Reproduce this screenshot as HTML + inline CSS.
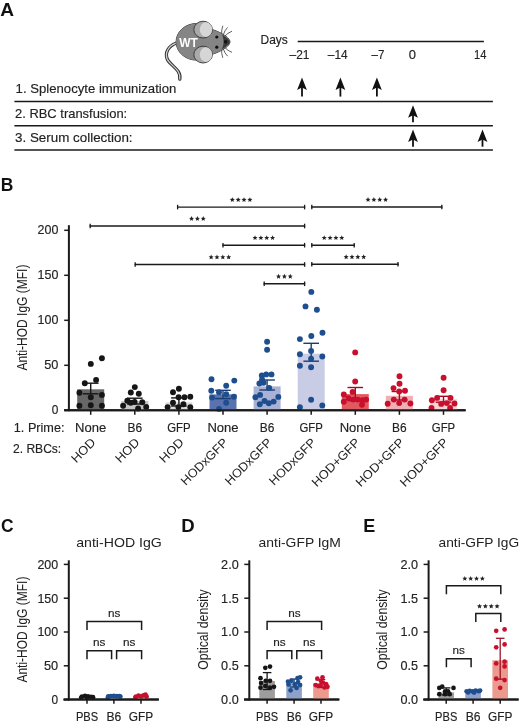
<!DOCTYPE html><html><head><meta charset="utf-8"><style>html,body{margin:0;padding:0;background:#fff;}svg{display:block;will-change:transform;}text{font-family:"Liberation Sans", sans-serif;}</style></head><body>
<svg width="520" height="724" viewBox="0 0 520 724">
<rect width="520" height="724" fill="#fff"/>
<text x="0.3" y="15.8" font-size="19" text-anchor="start" textLength="13.8" lengthAdjust="spacingAndGlyphs" font-weight="bold" fill="#111">A</text>
<g>
<path d="M176,43.2 C168.5,46 164.6,52.5 167.2,59 C170,65.5 181.5,69.5 179.8,79.2" fill="none" stroke="#333" stroke-width="3.3" stroke-linecap="round"/>
<path d="M176,43.2 C168.5,46 164.6,52.5 167.2,59 C170,65.5 181.5,69.5 179.8,79.2" fill="none" stroke="#d0d0d0" stroke-width="1.3" stroke-linecap="round"/>
<path d="M207,28.2 C214,29.5 220.5,32.5 225,35.6 C228.6,38.2 230.2,40.6 229.9,41.9 C230.2,43.2 228.6,45.6 225,48.2 C220.5,51.3 214,54.3 207,55.6 Z" fill="#858585" stroke="#333" stroke-width="1"/>
<ellipse cx="196.5" cy="41.8" rx="20.4" ry="18.3" fill="#858585" stroke="#333" stroke-width="1"/>
<path d="M207,28.2 C214,29.5 220.5,32.5 225,35.6 C228.6,38.2 230.2,40.6 229.9,41.9 C230.2,43.2 228.6,45.6 225,48.2 C220.5,51.3 214,54.3 207,55.6 Z" fill="#858585"/>
<ellipse cx="196.5" cy="41.8" rx="20.4" ry="18.3" fill="#858585"/>
<path d="M221.8,34.6 C225.5,36.8 229.9,39.8 229.9,41.9 C229.9,44 225.5,47 221.8,49.2 C224.2,45.2 224.2,38.6 221.8,34.6 Z" fill="#3a3a3a"/>
<circle cx="225.6" cy="41.7" r="1.7" fill="#111"/>
<ellipse cx="203.1" cy="29.6" rx="9.3" ry="8.4" fill="#a9a9a9" stroke="#333" stroke-width="0.9"/>
<ellipse cx="206.0" cy="29.6" rx="6.2" ry="7.3" fill="#d6d6d6"/>
<ellipse cx="203.1" cy="54.6" rx="9.3" ry="8.4" fill="#a9a9a9" stroke="#333" stroke-width="0.9"/>
<ellipse cx="206.0" cy="54.6" rx="6.2" ry="7.3" fill="#d6d6d6"/>
<circle cx="216.8" cy="37.0" r="1.6" fill="#111"/>
<circle cx="216.8" cy="47.2" r="1.6" fill="#111"/>
<path d="M221.6,33.8 Q221.4,30 222.8,25.8" fill="none" stroke="#3a3a3a" stroke-width="0.8"/>
<path d="M221.6,49.8 Q221.4,53.599999999999994 222.8,57.8" fill="none" stroke="#3a3a3a" stroke-width="0.8"/>
<path d="M223.4,34.6 Q224.5,30.5 227.6,27.4" fill="none" stroke="#3a3a3a" stroke-width="0.8"/>
<path d="M223.4,48.99999999999999 Q224.5,53.099999999999994 227.6,56.199999999999996" fill="none" stroke="#3a3a3a" stroke-width="0.8"/>
<path d="M225.0,36.0 Q227.5,33 232.0,31.2" fill="none" stroke="#3a3a3a" stroke-width="0.8"/>
<path d="M225.0,47.599999999999994 Q227.5,50.599999999999994 232.0,52.39999999999999" fill="none" stroke="#3a3a3a" stroke-width="0.8"/>
<text x="179.2" y="46.5" font-size="12.6" text-anchor="start" textLength="18.6" lengthAdjust="spacingAndGlyphs" font-weight="bold" fill="#fff">WT</text>
</g>
<text x="260.5" y="43.8" font-size="12.2" text-anchor="start" textLength="27.3" lengthAdjust="spacingAndGlyphs" fill="#222" stroke="#222" stroke-width="0.15">Days</text>
<line x1="297.7" y1="41.4" x2="483.9" y2="41.4" stroke="#1a1a1a" stroke-width="1.5"/>
<text x="289.6" y="58.8" font-size="12.5" text-anchor="start" textLength="19.9" lengthAdjust="spacingAndGlyphs" fill="#222" stroke="#222" stroke-width="0.15">–21</text>
<text x="327.8" y="58.8" font-size="12.5" text-anchor="start" textLength="19.9" lengthAdjust="spacingAndGlyphs" fill="#222" stroke="#222" stroke-width="0.15">–14</text>
<text x="371.6" y="58.8" font-size="12.5" text-anchor="start" textLength="12.8" lengthAdjust="spacingAndGlyphs" fill="#222" stroke="#222" stroke-width="0.15">–7</text>
<text x="408.7" y="58.8" font-size="12.5" text-anchor="start" textLength="7.2" lengthAdjust="spacingAndGlyphs" fill="#222" stroke="#222" stroke-width="0.15">0</text>
<text x="474.1" y="58.8" font-size="12.5" text-anchor="start" textLength="12.4" lengthAdjust="spacingAndGlyphs" fill="#222" stroke="#222" stroke-width="0.15">14</text>
<text x="15.6" y="93.4" font-size="12.8" text-anchor="start" textLength="160.8" lengthAdjust="spacingAndGlyphs" fill="#222" stroke="#222" stroke-width="0.15">1. Splenocyte immunization</text>
<text x="15.0" y="118.1" font-size="12.8" text-anchor="start" textLength="112.2" lengthAdjust="spacingAndGlyphs" fill="#222" stroke="#222" stroke-width="0.15">2. RBC transfusion:</text>
<text x="15.0" y="142.1" font-size="12.8" text-anchor="start" textLength="117.6" lengthAdjust="spacingAndGlyphs" fill="#222" stroke="#222" stroke-width="0.15">3. Serum collection:</text>
<line x1="14.4" y1="101.5" x2="492.9" y2="101.5" stroke="#1a1a1a" stroke-width="1.5"/>
<line x1="14.4" y1="125.8" x2="492.9" y2="125.8" stroke="#1a1a1a" stroke-width="1.5"/>
<line x1="14.4" y1="150.0" x2="492.9" y2="150.0" stroke="#1a1a1a" stroke-width="1.5"/>
<path d="M302,77.4 L306.9,89.9 L302,87.4 L297.1,89.9 Z" fill="#111"/>
<line x1="302" y1="87.0" x2="302" y2="96.6" stroke="#111" stroke-width="1.8"/>
<path d="M340.4,77.4 L345.29999999999995,89.9 L340.4,87.4 L335.5,89.9 Z" fill="#111"/>
<line x1="340.4" y1="87.0" x2="340.4" y2="96.6" stroke="#111" stroke-width="1.8"/>
<path d="M376.9,77.4 L381.79999999999995,89.9 L376.9,87.4 L372.0,89.9 Z" fill="#111"/>
<line x1="376.9" y1="87.0" x2="376.9" y2="96.6" stroke="#111" stroke-width="1.8"/>
<path d="M413,105.30000000000001 L417.9,117.80000000000001 L413,115.30000000000001 L408.1,117.80000000000001 Z" fill="#111"/>
<line x1="413" y1="114.9" x2="413" y2="122.30000000000001" stroke="#111" stroke-width="1.8"/>
<path d="M413,129.5 L417.9,142.0 L413,139.5 L408.1,142.0 Z" fill="#111"/>
<line x1="413" y1="139.1" x2="413" y2="146.7" stroke="#111" stroke-width="1.8"/>
<path d="M482.5,129.5 L487.4,142.0 L482.5,139.5 L477.6,142.0 Z" fill="#111"/>
<line x1="482.5" y1="139.1" x2="482.5" y2="146.7" stroke="#111" stroke-width="1.8"/>
<text x="0.8" y="190.8" font-size="19" text-anchor="start" textLength="12.6" lengthAdjust="spacingAndGlyphs" font-weight="bold" fill="#111">B</text>
<line x1="68.9" y1="225.2" x2="68.9" y2="411.2" stroke="#1a1a1a" stroke-width="2.0"/>
<line x1="64.2" y1="410.3" x2="465.6" y2="410.3" stroke="#1a1a1a" stroke-width="2.0"/>
<line x1="64.2" y1="410.3" x2="68.9" y2="410.3" stroke="#1a1a1a" stroke-width="1.5"/>
<text x="58.4" y="414.2" font-size="12.6" text-anchor="end" textLength="6.6" lengthAdjust="spacingAndGlyphs" fill="#222" stroke="#222" stroke-width="0.15">0</text>
<line x1="64.2" y1="365.3" x2="68.9" y2="365.3" stroke="#1a1a1a" stroke-width="1.5"/>
<text x="58.4" y="369.2" font-size="12.6" text-anchor="end" textLength="14.2" lengthAdjust="spacingAndGlyphs" fill="#222" stroke="#222" stroke-width="0.15">50</text>
<line x1="64.2" y1="320.3" x2="68.9" y2="320.3" stroke="#1a1a1a" stroke-width="1.5"/>
<text x="58.4" y="324.2" font-size="12.6" text-anchor="end" textLength="20.8" lengthAdjust="spacingAndGlyphs" fill="#222" stroke="#222" stroke-width="0.15">100</text>
<line x1="64.2" y1="275.3" x2="68.9" y2="275.3" stroke="#1a1a1a" stroke-width="1.5"/>
<text x="58.4" y="279.2" font-size="12.6" text-anchor="end" textLength="20.8" lengthAdjust="spacingAndGlyphs" fill="#222" stroke="#222" stroke-width="0.15">150</text>
<line x1="64.2" y1="230.3" x2="68.9" y2="230.3" stroke="#1a1a1a" stroke-width="1.5"/>
<text x="58.4" y="234.2" font-size="12.6" text-anchor="end" textLength="20.8" lengthAdjust="spacingAndGlyphs" fill="#222" stroke="#222" stroke-width="0.15">200</text>
<text transform="translate(27.1,317.6) rotate(-90)" x="0" y="0" font-size="14.8" text-anchor="middle" textLength="106" lengthAdjust="spacingAndGlyphs" fill="#222">Anti-HOD IgG (MFI)</text>
<rect x="77.2" y="389.3" width="27" height="21.0" fill="#676767"/>
<line x1="90.7" y1="383.2" x2="90.7" y2="393.8" stroke="#161616" stroke-width="1.4"/>
<line x1="82.9" y1="383.2" x2="98.5" y2="383.2" stroke="#161616" stroke-width="1.4"/>
<line x1="82.9" y1="393.8" x2="98.5" y2="393.8" stroke="#161616" stroke-width="1.4"/>
<circle cx="101.9" cy="358.3" r="2.95" fill="#161616"/>
<circle cx="90.8" cy="363.9" r="2.95" fill="#161616"/>
<circle cx="96.1" cy="379.9" r="2.95" fill="#161616"/>
<circle cx="84.8" cy="383.2" r="2.95" fill="#161616"/>
<circle cx="79.4" cy="392.7" r="2.95" fill="#161616"/>
<circle cx="90.8" cy="397.2" r="2.95" fill="#161616"/>
<circle cx="101.9" cy="394.9" r="2.95" fill="#161616"/>
<circle cx="79.4" cy="405.7" r="2.95" fill="#161616"/>
<circle cx="90.8" cy="405.3" r="2.95" fill="#161616"/>
<circle cx="101.9" cy="405.7" r="2.95" fill="#161616"/>
<rect x="121.3" y="401.0" width="27" height="9.3" fill="#c6c6c6"/>
<line x1="134.8" y1="398.2" x2="134.8" y2="404.0" stroke="#161616" stroke-width="1.4"/>
<line x1="127.00000000000001" y1="398.2" x2="142.60000000000002" y2="398.2" stroke="#161616" stroke-width="1.4"/>
<line x1="127.00000000000001" y1="404.0" x2="142.60000000000002" y2="404.0" stroke="#161616" stroke-width="1.4"/>
<circle cx="134.8" cy="387.1" r="2.95" fill="#161616"/>
<circle cx="130.8" cy="392.5" r="2.95" fill="#161616"/>
<circle cx="138.8" cy="393.8" r="2.95" fill="#161616"/>
<circle cx="127.3" cy="400.8" r="2.95" fill="#161616"/>
<circle cx="130.8" cy="402.7" r="2.95" fill="#161616"/>
<circle cx="134.6" cy="401.9" r="2.95" fill="#161616"/>
<circle cx="142.3" cy="402.3" r="2.95" fill="#161616"/>
<circle cx="123.1" cy="405.8" r="2.95" fill="#161616"/>
<circle cx="138.1" cy="408.5" r="2.95" fill="#161616"/>
<circle cx="146.2" cy="406.9" r="2.95" fill="#161616"/>
<rect x="165.4" y="402.3" width="27" height="8.0" fill="#dcdcdc"/>
<line x1="178.9" y1="397.9" x2="178.9" y2="406.0" stroke="#161616" stroke-width="1.4"/>
<line x1="171.1" y1="397.9" x2="186.70000000000002" y2="397.9" stroke="#161616" stroke-width="1.4"/>
<line x1="171.1" y1="406.0" x2="186.70000000000002" y2="406.0" stroke="#161616" stroke-width="1.4"/>
<circle cx="178.9" cy="388.8" r="2.95" fill="#161616"/>
<circle cx="173.0" cy="392.2" r="2.95" fill="#161616"/>
<circle cx="178.6" cy="397.2" r="2.95" fill="#161616"/>
<circle cx="184.5" cy="397.3" r="2.95" fill="#161616"/>
<circle cx="190.3" cy="396.8" r="2.95" fill="#161616"/>
<circle cx="173.0" cy="402.7" r="2.95" fill="#161616"/>
<circle cx="183.4" cy="404.2" r="2.95" fill="#161616"/>
<circle cx="167.6" cy="407.1" r="2.95" fill="#161616"/>
<circle cx="178.4" cy="407.1" r="2.95" fill="#161616"/>
<circle cx="190.3" cy="407.3" r="2.95" fill="#161616"/>
<rect x="209.5" y="394.4" width="27" height="15.9" fill="#5a73af"/>
<line x1="223.0" y1="390.3" x2="223.0" y2="398.6" stroke="#1a3d73" stroke-width="1.4"/>
<line x1="215.2" y1="390.3" x2="230.8" y2="390.3" stroke="#1a3d73" stroke-width="1.4"/>
<line x1="215.2" y1="398.6" x2="230.8" y2="398.6" stroke="#1a3d73" stroke-width="1.4"/>
<circle cx="211.5" cy="379.2" r="2.95" fill="#1e4e8e"/>
<circle cx="234.3" cy="380.6" r="2.95" fill="#1e4e8e"/>
<circle cx="226.2" cy="385.7" r="2.95" fill="#1e4e8e"/>
<circle cx="211.3" cy="390.7" r="2.95" fill="#1e4e8e"/>
<circle cx="219.0" cy="392.3" r="2.95" fill="#1e4e8e"/>
<circle cx="226.2" cy="394.3" r="2.95" fill="#1e4e8e"/>
<circle cx="212.1" cy="397.6" r="2.95" fill="#1e4e8e"/>
<circle cx="233.9" cy="396.8" r="2.95" fill="#1e4e8e"/>
<circle cx="226.2" cy="402.8" r="2.95" fill="#1e4e8e"/>
<circle cx="219.0" cy="408.9" r="2.95" fill="#1e4e8e"/>
<rect x="253.6" y="386.4" width="27" height="23.9" fill="#a9b1d4"/>
<line x1="267.1" y1="380.0" x2="267.1" y2="390.0" stroke="#1a3d73" stroke-width="1.4"/>
<line x1="259.3" y1="380.0" x2="274.90000000000003" y2="380.0" stroke="#1a3d73" stroke-width="1.4"/>
<line x1="259.3" y1="390.0" x2="274.90000000000003" y2="390.0" stroke="#1a3d73" stroke-width="1.4"/>
<circle cx="267.1" cy="341.8" r="2.95" fill="#1e4e8e"/>
<circle cx="267.1" cy="349.7" r="2.95" fill="#1e4e8e"/>
<circle cx="261.8" cy="375.4" r="2.95" fill="#1e4e8e"/>
<circle cx="266.2" cy="374.4" r="2.95" fill="#1e4e8e"/>
<circle cx="271.5" cy="374.4" r="2.95" fill="#1e4e8e"/>
<circle cx="262.1" cy="379.4" r="2.95" fill="#1e4e8e"/>
<circle cx="259.4" cy="383.5" r="2.95" fill="#1e4e8e"/>
<circle cx="263.5" cy="382.8" r="2.95" fill="#1e4e8e"/>
<circle cx="269.2" cy="387.9" r="2.95" fill="#1e4e8e"/>
<circle cx="255.4" cy="397.3" r="2.95" fill="#1e4e8e"/>
<circle cx="260.1" cy="394.9" r="2.95" fill="#1e4e8e"/>
<circle cx="278.3" cy="396.9" r="2.95" fill="#1e4e8e"/>
<circle cx="259.8" cy="404.3" r="2.95" fill="#1e4e8e"/>
<circle cx="264.5" cy="401.0" r="2.95" fill="#1e4e8e"/>
<circle cx="268.8" cy="403.3" r="2.95" fill="#1e4e8e"/>
<circle cx="273.6" cy="401.6" r="2.95" fill="#1e4e8e"/>
<rect x="297.7" y="353.7" width="27" height="56.6" fill="#c8cce4"/>
<line x1="311.2" y1="343.3" x2="311.2" y2="361.2" stroke="#1a3d73" stroke-width="1.4"/>
<line x1="303.4" y1="343.3" x2="319.0" y2="343.3" stroke="#1a3d73" stroke-width="1.4"/>
<line x1="303.4" y1="361.2" x2="319.0" y2="361.2" stroke="#1a3d73" stroke-width="1.4"/>
<circle cx="311.3" cy="291.9" r="2.95" fill="#1e4e8e"/>
<circle cx="305.5" cy="306.4" r="2.95" fill="#1e4e8e"/>
<circle cx="316.9" cy="309.8" r="2.95" fill="#1e4e8e"/>
<circle cx="322.5" cy="332.7" r="2.95" fill="#1e4e8e"/>
<circle cx="311.3" cy="336.0" r="2.95" fill="#1e4e8e"/>
<circle cx="299.9" cy="339.1" r="2.95" fill="#1e4e8e"/>
<circle cx="311.1" cy="350.9" r="2.95" fill="#1e4e8e"/>
<circle cx="299.9" cy="354.3" r="2.95" fill="#1e4e8e"/>
<circle cx="322.3" cy="356.5" r="2.95" fill="#1e4e8e"/>
<circle cx="311.1" cy="358.7" r="2.95" fill="#1e4e8e"/>
<circle cx="299.9" cy="365.8" r="2.95" fill="#1e4e8e"/>
<circle cx="311.1" cy="367.3" r="2.95" fill="#1e4e8e"/>
<circle cx="311.1" cy="399.8" r="2.95" fill="#1e4e8e"/>
<circle cx="299.9" cy="407.2" r="2.95" fill="#1e4e8e"/>
<circle cx="322.3" cy="405.4" r="2.95" fill="#1e4e8e"/>
<rect x="341.8" y="394.1" width="27" height="16.2" fill="#e05a5f"/>
<line x1="355.3" y1="387.5" x2="355.3" y2="400.6" stroke="#9e0c22" stroke-width="1.4"/>
<line x1="347.5" y1="387.5" x2="363.1" y2="387.5" stroke="#9e0c22" stroke-width="1.4"/>
<line x1="347.5" y1="400.6" x2="363.1" y2="400.6" stroke="#9e0c22" stroke-width="1.4"/>
<circle cx="355.2" cy="352.4" r="2.95" fill="#c8102e"/>
<circle cx="355.2" cy="381.5" r="2.95" fill="#c8102e"/>
<circle cx="352.6" cy="391.9" r="2.95" fill="#c8102e"/>
<circle cx="343.8" cy="394.5" r="2.95" fill="#c8102e"/>
<circle cx="348.5" cy="398.1" r="2.95" fill="#c8102e"/>
<circle cx="343.8" cy="401.7" r="2.95" fill="#c8102e"/>
<circle cx="353.2" cy="399.6" r="2.95" fill="#c8102e"/>
<circle cx="357.8" cy="399.6" r="2.95" fill="#c8102e"/>
<circle cx="362.5" cy="400.2" r="2.95" fill="#c8102e"/>
<circle cx="366.1" cy="399.6" r="2.95" fill="#c8102e"/>
<circle cx="362.0" cy="404.8" r="2.95" fill="#c8102e"/>
<rect x="385.9" y="395.8" width="27" height="14.5" fill="#f0afb4"/>
<line x1="399.4" y1="391.5" x2="399.4" y2="400.0" stroke="#9e0c22" stroke-width="1.4"/>
<line x1="391.59999999999997" y1="391.5" x2="407.2" y2="391.5" stroke="#9e0c22" stroke-width="1.4"/>
<line x1="391.59999999999997" y1="400.0" x2="407.2" y2="400.0" stroke="#9e0c22" stroke-width="1.4"/>
<circle cx="399.5" cy="376.2" r="2.95" fill="#c8102e"/>
<circle cx="399.5" cy="383.8" r="2.95" fill="#c8102e"/>
<circle cx="393.5" cy="388.1" r="2.95" fill="#c8102e"/>
<circle cx="399.2" cy="391.5" r="2.95" fill="#c8102e"/>
<circle cx="405.0" cy="390.8" r="2.95" fill="#c8102e"/>
<circle cx="393.8" cy="399.6" r="2.95" fill="#c8102e"/>
<circle cx="404.6" cy="399.6" r="2.95" fill="#c8102e"/>
<circle cx="387.7" cy="403.8" r="2.95" fill="#c8102e"/>
<circle cx="399.2" cy="403.1" r="2.95" fill="#c8102e"/>
<circle cx="410.4" cy="403.5" r="2.95" fill="#c8102e"/>
<rect x="430.0" y="399.2" width="27" height="11.1" fill="#f7d3d5"/>
<line x1="443.5" y1="396.3" x2="443.5" y2="402.2" stroke="#9e0c22" stroke-width="1.4"/>
<line x1="435.7" y1="396.3" x2="451.3" y2="396.3" stroke="#9e0c22" stroke-width="1.4"/>
<line x1="435.7" y1="402.2" x2="451.3" y2="402.2" stroke="#9e0c22" stroke-width="1.4"/>
<circle cx="443.6" cy="377.7" r="2.95" fill="#c8102e"/>
<circle cx="443.6" cy="390.2" r="2.95" fill="#c8102e"/>
<circle cx="437.1" cy="397.9" r="2.95" fill="#c8102e"/>
<circle cx="431.9" cy="400.3" r="2.95" fill="#c8102e"/>
<circle cx="450.5" cy="397.9" r="2.95" fill="#c8102e"/>
<circle cx="441.2" cy="403.9" r="2.95" fill="#c8102e"/>
<circle cx="446.8" cy="403.1" r="2.95" fill="#c8102e"/>
<circle cx="454.5" cy="403.5" r="2.95" fill="#c8102e"/>
<circle cx="431.5" cy="408.0" r="2.95" fill="#c8102e"/>
<circle cx="450.1" cy="408.0" r="2.95" fill="#c8102e"/>
<line x1="64.2" y1="410.3" x2="465.6" y2="410.3" stroke="#1a1a1a" stroke-width="2.0"/>
<line x1="90.7" y1="410.3" x2="90.7" y2="414.8" stroke="#1a1a1a" stroke-width="1.5"/>
<line x1="134.8" y1="410.3" x2="134.8" y2="414.8" stroke="#1a1a1a" stroke-width="1.5"/>
<line x1="178.9" y1="410.3" x2="178.9" y2="414.8" stroke="#1a1a1a" stroke-width="1.5"/>
<line x1="223.0" y1="410.3" x2="223.0" y2="414.8" stroke="#1a1a1a" stroke-width="1.5"/>
<line x1="267.1" y1="410.3" x2="267.1" y2="414.8" stroke="#1a1a1a" stroke-width="1.5"/>
<line x1="311.2" y1="410.3" x2="311.2" y2="414.8" stroke="#1a1a1a" stroke-width="1.5"/>
<line x1="355.3" y1="410.3" x2="355.3" y2="414.8" stroke="#1a1a1a" stroke-width="1.5"/>
<line x1="399.4" y1="410.3" x2="399.4" y2="414.8" stroke="#1a1a1a" stroke-width="1.5"/>
<line x1="443.5" y1="410.3" x2="443.5" y2="414.8" stroke="#1a1a1a" stroke-width="1.5"/>
<text x="13.8" y="431.8" font-size="12.8" text-anchor="start" textLength="50.7" lengthAdjust="spacingAndGlyphs" fill="#222" stroke="#222" stroke-width="0.15">1. Prime:</text>
<text x="13.0" y="452.6" font-size="12.8" text-anchor="start" textLength="48.2" lengthAdjust="spacingAndGlyphs" fill="#222" stroke="#222" stroke-width="0.15">2. RBCs:</text>
<text x="90.7" y="431.9" font-size="12.8" text-anchor="middle" textLength="31.2" lengthAdjust="spacingAndGlyphs" fill="#222" stroke="#222" stroke-width="0.15">None</text>
<text x="134.8" y="431.9" font-size="12.8" text-anchor="middle" textLength="14.6" lengthAdjust="spacingAndGlyphs" fill="#222" stroke="#222" stroke-width="0.15">B6</text>
<text x="178.9" y="431.9" font-size="12.8" text-anchor="middle" textLength="23.4" lengthAdjust="spacingAndGlyphs" fill="#222" stroke="#222" stroke-width="0.15">GFP</text>
<text x="223.0" y="431.9" font-size="12.8" text-anchor="middle" textLength="31.2" lengthAdjust="spacingAndGlyphs" fill="#222" stroke="#222" stroke-width="0.15">None</text>
<text x="267.1" y="431.9" font-size="12.8" text-anchor="middle" textLength="14.6" lengthAdjust="spacingAndGlyphs" fill="#222" stroke="#222" stroke-width="0.15">B6</text>
<text x="311.2" y="431.9" font-size="12.8" text-anchor="middle" textLength="23.4" lengthAdjust="spacingAndGlyphs" fill="#222" stroke="#222" stroke-width="0.15">GFP</text>
<text x="355.3" y="431.9" font-size="12.8" text-anchor="middle" textLength="31.2" lengthAdjust="spacingAndGlyphs" fill="#222" stroke="#222" stroke-width="0.15">None</text>
<text x="399.4" y="431.9" font-size="12.8" text-anchor="middle" textLength="14.6" lengthAdjust="spacingAndGlyphs" fill="#222" stroke="#222" stroke-width="0.15">B6</text>
<text x="443.5" y="431.9" font-size="12.8" text-anchor="middle" textLength="23.4" lengthAdjust="spacingAndGlyphs" fill="#222" stroke="#222" stroke-width="0.15">GFP</text>
<text transform="translate(96.3,443.3) rotate(-45)" x="0" y="0" font-size="12.4" text-anchor="end" textLength="28.5" lengthAdjust="spacingAndGlyphs" fill="#222">HOD</text>
<text transform="translate(140.4,443.3) rotate(-45)" x="0" y="0" font-size="12.4" text-anchor="end" textLength="28.5" lengthAdjust="spacingAndGlyphs" fill="#222">HOD</text>
<text transform="translate(184.5,443.3) rotate(-45)" x="0" y="0" font-size="12.4" text-anchor="end" textLength="28.5" lengthAdjust="spacingAndGlyphs" fill="#222">HOD</text>
<text transform="translate(228.6,443.3) rotate(-45)" x="0" y="0" font-size="12.4" text-anchor="end" textLength="60.5" lengthAdjust="spacingAndGlyphs" fill="#222">HODxGFP</text>
<text transform="translate(272.7,443.3) rotate(-45)" x="0" y="0" font-size="12.4" text-anchor="end" textLength="60.5" lengthAdjust="spacingAndGlyphs" fill="#222">HODxGFP</text>
<text transform="translate(316.8,443.3) rotate(-45)" x="0" y="0" font-size="12.4" text-anchor="end" textLength="60.5" lengthAdjust="spacingAndGlyphs" fill="#222">HODxGFP</text>
<text transform="translate(360.9,443.3) rotate(-45)" x="0" y="0" font-size="12.4" text-anchor="end" textLength="62.5" lengthAdjust="spacingAndGlyphs" fill="#222">HOD+GFP</text>
<text transform="translate(405.0,443.3) rotate(-45)" x="0" y="0" font-size="12.4" text-anchor="end" textLength="62.5" lengthAdjust="spacingAndGlyphs" fill="#222">HOD+GFP</text>
<text transform="translate(449.1,443.3) rotate(-45)" x="0" y="0" font-size="12.4" text-anchor="end" textLength="62.5" lengthAdjust="spacingAndGlyphs" fill="#222">HOD+GFP</text>
<line x1="177.0" y1="207.1" x2="305.2" y2="207.1" stroke="#1a1a1a" stroke-width="1.4"/>
<line x1="177.6" y1="204.79999999999998" x2="177.6" y2="209.4" stroke="#1a1a1a" stroke-width="1.3"/>
<line x1="304.59999999999997" y1="204.79999999999998" x2="304.59999999999997" y2="209.4" stroke="#1a1a1a" stroke-width="1.3"/>
<polygon points="232.32,197.15 233.03,198.83 234.85,198.98 233.47,200.17 233.88,201.94 232.32,201.00 230.77,201.94 231.18,200.17 229.80,198.98 231.62,198.83" fill="#222"/>
<polygon points="238.17,197.15 238.88,198.83 240.70,198.98 239.32,200.17 239.73,201.94 238.17,201.00 236.62,201.94 237.03,200.17 235.65,198.98 237.47,198.83" fill="#222"/>
<polygon points="244.02,197.15 244.73,198.83 246.55,198.98 245.17,200.17 245.58,201.94 244.02,201.00 242.47,201.94 242.88,200.17 241.50,198.98 243.32,198.83" fill="#222"/>
<polygon points="249.88,197.15 250.58,198.83 252.40,198.98 251.02,200.17 251.43,201.94 249.88,201.00 248.32,201.94 248.73,200.17 247.35,198.98 249.17,198.83" fill="#222"/>
<line x1="89.6" y1="226.0" x2="305.2" y2="226.0" stroke="#1a1a1a" stroke-width="1.4"/>
<line x1="90.19999999999999" y1="223.7" x2="90.19999999999999" y2="228.3" stroke="#1a1a1a" stroke-width="1.3"/>
<line x1="304.59999999999997" y1="223.7" x2="304.59999999999997" y2="228.3" stroke="#1a1a1a" stroke-width="1.3"/>
<polygon points="191.55,216.05 192.26,217.73 194.07,217.88 192.69,219.07 193.11,220.84 191.55,219.90 189.99,220.84 190.41,219.07 189.03,217.88 190.84,217.73" fill="#222"/>
<polygon points="197.40,216.05 198.11,217.73 199.92,217.88 198.54,219.07 198.96,220.84 197.40,219.90 195.84,220.84 196.26,219.07 194.88,217.88 196.69,217.73" fill="#222"/>
<polygon points="203.25,216.05 203.96,217.73 205.77,217.88 204.39,219.07 204.81,220.84 203.25,219.90 201.69,220.84 202.11,219.07 200.73,217.88 202.54,217.73" fill="#222"/>
<line x1="222.4" y1="245.2" x2="305.2" y2="245.2" stroke="#1a1a1a" stroke-width="1.4"/>
<line x1="223.0" y1="242.89999999999998" x2="223.0" y2="247.5" stroke="#1a1a1a" stroke-width="1.3"/>
<line x1="304.59999999999997" y1="242.89999999999998" x2="304.59999999999997" y2="247.5" stroke="#1a1a1a" stroke-width="1.3"/>
<polygon points="255.03,235.25 255.73,236.93 257.55,237.08 256.17,238.27 256.58,240.04 255.03,239.10 253.47,240.04 253.88,238.27 252.50,237.08 254.32,236.93" fill="#222"/>
<polygon points="260.88,235.25 261.58,236.93 263.40,237.08 262.02,238.27 262.43,240.04 260.88,239.10 259.32,240.04 259.73,238.27 258.35,237.08 260.17,236.93" fill="#222"/>
<polygon points="266.73,235.25 267.43,236.93 269.25,237.08 267.87,238.27 268.28,240.04 266.73,239.10 265.17,240.04 265.58,238.27 264.20,237.08 266.02,236.93" fill="#222"/>
<polygon points="272.57,235.25 273.28,236.93 275.10,237.08 273.72,238.27 274.13,240.04 272.57,239.10 271.02,240.04 271.43,238.27 270.05,237.08 271.87,236.93" fill="#222"/>
<line x1="134.6" y1="264.5" x2="305.2" y2="264.5" stroke="#1a1a1a" stroke-width="1.4"/>
<line x1="135.2" y1="262.2" x2="135.2" y2="266.8" stroke="#1a1a1a" stroke-width="1.3"/>
<line x1="304.59999999999997" y1="262.2" x2="304.59999999999997" y2="266.8" stroke="#1a1a1a" stroke-width="1.3"/>
<polygon points="211.12,254.55 211.83,256.23 213.65,256.38 212.27,257.57 212.68,259.34 211.12,258.40 209.57,259.34 209.98,257.57 208.60,256.38 210.42,256.23" fill="#222"/>
<polygon points="216.97,254.55 217.68,256.23 219.50,256.38 218.12,257.57 218.53,259.34 216.97,258.40 215.42,259.34 215.83,257.57 214.45,256.38 216.27,256.23" fill="#222"/>
<polygon points="222.82,254.55 223.53,256.23 225.35,256.38 223.97,257.57 224.38,259.34 222.82,258.40 221.27,259.34 221.68,257.57 220.30,256.38 222.12,256.23" fill="#222"/>
<polygon points="228.67,254.55 229.38,256.23 231.20,256.38 229.82,257.57 230.23,259.34 228.67,258.40 227.12,259.34 227.53,257.57 226.15,256.38 227.97,256.23" fill="#222"/>
<line x1="263.6" y1="283.8" x2="305.2" y2="283.8" stroke="#1a1a1a" stroke-width="1.4"/>
<line x1="264.20000000000005" y1="281.5" x2="264.20000000000005" y2="286.1" stroke="#1a1a1a" stroke-width="1.3"/>
<line x1="304.59999999999997" y1="281.5" x2="304.59999999999997" y2="286.1" stroke="#1a1a1a" stroke-width="1.3"/>
<polygon points="278.55,273.85 279.26,275.53 281.07,275.68 279.69,276.87 280.11,278.64 278.55,277.70 276.99,278.64 277.41,276.87 276.03,275.68 277.84,275.53" fill="#222"/>
<polygon points="284.40,273.85 285.11,275.53 286.92,275.68 285.54,276.87 285.96,278.64 284.40,277.70 282.84,278.64 283.26,276.87 281.88,275.68 283.69,275.53" fill="#222"/>
<polygon points="290.25,273.85 290.96,275.53 292.77,275.68 291.39,276.87 291.81,278.64 290.25,277.70 288.69,278.64 289.11,276.87 287.73,275.68 289.54,275.53" fill="#222"/>
<line x1="311.2" y1="207.0" x2="442.4" y2="207.0" stroke="#1a1a1a" stroke-width="1.4"/>
<line x1="311.8" y1="204.7" x2="311.8" y2="209.3" stroke="#1a1a1a" stroke-width="1.3"/>
<line x1="441.79999999999995" y1="204.7" x2="441.79999999999995" y2="209.3" stroke="#1a1a1a" stroke-width="1.3"/>
<polygon points="368.02,197.05 368.73,198.73 370.55,198.88 369.17,200.07 369.58,201.84 368.02,200.90 366.47,201.84 366.88,200.07 365.50,198.88 367.32,198.73" fill="#222"/>
<polygon points="373.88,197.05 374.58,198.73 376.40,198.88 375.02,200.07 375.43,201.84 373.88,200.90 372.32,201.84 372.73,200.07 371.35,198.88 373.17,198.73" fill="#222"/>
<polygon points="379.72,197.05 380.43,198.73 382.25,198.88 380.87,200.07 381.28,201.84 379.72,200.90 378.17,201.84 378.58,200.07 377.20,198.88 379.02,198.73" fill="#222"/>
<polygon points="385.57,197.05 386.28,198.73 388.10,198.88 386.72,200.07 387.13,201.84 385.57,200.90 384.02,201.84 384.43,200.07 383.05,198.88 384.87,198.73" fill="#222"/>
<line x1="311.2" y1="245.2" x2="354.8" y2="245.2" stroke="#1a1a1a" stroke-width="1.4"/>
<line x1="311.8" y1="242.89999999999998" x2="311.8" y2="247.5" stroke="#1a1a1a" stroke-width="1.3"/>
<line x1="354.2" y1="242.89999999999998" x2="354.2" y2="247.5" stroke="#1a1a1a" stroke-width="1.3"/>
<polygon points="324.23,235.25 324.93,236.93 326.75,237.08 325.37,238.27 325.78,240.04 324.23,239.10 322.67,240.04 323.08,238.27 321.70,237.08 323.52,236.93" fill="#222"/>
<polygon points="330.08,235.25 330.78,236.93 332.60,237.08 331.22,238.27 331.63,240.04 330.08,239.10 328.52,240.04 328.93,238.27 327.55,237.08 329.37,236.93" fill="#222"/>
<polygon points="335.93,235.25 336.63,236.93 338.45,237.08 337.07,238.27 337.48,240.04 335.93,239.10 334.37,240.04 334.78,238.27 333.40,237.08 335.22,236.93" fill="#222"/>
<polygon points="341.78,235.25 342.48,236.93 344.30,237.08 342.92,238.27 343.33,240.04 341.78,239.10 340.22,240.04 340.63,238.27 339.25,237.08 341.07,236.93" fill="#222"/>
<line x1="311.2" y1="264.3" x2="398.6" y2="264.3" stroke="#1a1a1a" stroke-width="1.4"/>
<line x1="311.8" y1="262.0" x2="311.8" y2="266.6" stroke="#1a1a1a" stroke-width="1.3"/>
<line x1="398.0" y1="262.0" x2="398.0" y2="266.6" stroke="#1a1a1a" stroke-width="1.3"/>
<polygon points="346.12,254.35 346.83,256.03 348.65,256.18 347.27,257.37 347.68,259.14 346.12,258.20 344.57,259.14 344.98,257.37 343.60,256.18 345.42,256.03" fill="#222"/>
<polygon points="351.98,254.35 352.68,256.03 354.50,256.18 353.12,257.37 353.53,259.14 351.98,258.20 350.42,259.14 350.83,257.37 349.45,256.18 351.27,256.03" fill="#222"/>
<polygon points="357.82,254.35 358.53,256.03 360.35,256.18 358.97,257.37 359.38,259.14 357.82,258.20 356.27,259.14 356.68,257.37 355.30,256.18 357.12,256.03" fill="#222"/>
<polygon points="363.68,254.35 364.38,256.03 366.20,256.18 364.82,257.37 365.23,259.14 363.68,258.20 362.12,259.14 362.53,257.37 361.15,256.18 362.97,256.03" fill="#222"/>
<text x="1.0" y="531.5" font-size="18" text-anchor="start" textLength="12.6" lengthAdjust="spacingAndGlyphs" font-weight="bold" fill="#111">C</text>
<text x="76.2" y="546.9" font-size="12.6" text-anchor="start" textLength="85.7" lengthAdjust="spacingAndGlyphs" fill="#222">anti-HOD IgG</text>
<line x1="68.8" y1="560.3" x2="68.8" y2="700.5" stroke="#1a1a1a" stroke-width="2.0"/>
<line x1="63.599999999999994" y1="699.6" x2="158.8" y2="699.6" stroke="#1a1a1a" stroke-width="2.0"/>
<line x1="63.8" y1="699.6" x2="68.8" y2="699.6" stroke="#1a1a1a" stroke-width="1.5"/>
<text x="58.199999999999996" y="704.0" font-size="12.8" text-anchor="end" textLength="6.6" lengthAdjust="spacingAndGlyphs" fill="#222" stroke="#222" stroke-width="0.15">0</text>
<line x1="63.8" y1="665.8000000000001" x2="68.8" y2="665.8000000000001" stroke="#1a1a1a" stroke-width="1.5"/>
<text x="58.199999999999996" y="670.2" font-size="12.8" text-anchor="end" textLength="14.2" lengthAdjust="spacingAndGlyphs" fill="#222" stroke="#222" stroke-width="0.15">50</text>
<line x1="63.8" y1="632.0" x2="68.8" y2="632.0" stroke="#1a1a1a" stroke-width="1.5"/>
<text x="58.199999999999996" y="636.4" font-size="12.8" text-anchor="end" textLength="20.8" lengthAdjust="spacingAndGlyphs" fill="#222" stroke="#222" stroke-width="0.15">100</text>
<line x1="63.8" y1="598.2" x2="68.8" y2="598.2" stroke="#1a1a1a" stroke-width="1.5"/>
<text x="58.199999999999996" y="602.6" font-size="12.8" text-anchor="end" textLength="20.8" lengthAdjust="spacingAndGlyphs" fill="#222" stroke="#222" stroke-width="0.15">150</text>
<line x1="63.8" y1="564.4000000000001" x2="68.8" y2="564.4000000000001" stroke="#1a1a1a" stroke-width="1.5"/>
<text x="58.199999999999996" y="568.8" font-size="12.8" text-anchor="end" textLength="20.8" lengthAdjust="spacingAndGlyphs" fill="#222" stroke="#222" stroke-width="0.15">200</text>
<text transform="translate(27.1,629.6) rotate(-90)" x="0" y="0" font-size="14.2" text-anchor="middle" textLength="106" lengthAdjust="spacingAndGlyphs" fill="#222">Anti-HOD IgG (MFI)</text>
<rect x="79.2" y="697.0" width="15.6" height="2.6" fill="#9a9a9a"/>
<circle cx="82.0" cy="696.5" r="2.35" fill="#161616"/>
<circle cx="85.0" cy="695.8" r="2.35" fill="#161616"/>
<circle cx="88.0" cy="696.3" r="2.35" fill="#161616"/>
<circle cx="91.0" cy="696.9" r="2.35" fill="#161616"/>
<circle cx="93.0" cy="697.2" r="2.35" fill="#161616"/>
<circle cx="81.2" cy="697.6" r="2.35" fill="#161616"/>
<circle cx="87.0" cy="697.4" r="2.35" fill="#161616"/>
<circle cx="92.8" cy="697.8" r="2.35" fill="#161616"/>
<rect x="106.1" y="696.6" width="15.6" height="3.0" fill="#8f9fc9"/>
<circle cx="108.4" cy="696.3" r="2.35" fill="#1e4e8e"/>
<circle cx="110.9" cy="696.0" r="2.35" fill="#1e4e8e"/>
<circle cx="113.9" cy="695.9" r="2.35" fill="#1e4e8e"/>
<circle cx="116.9" cy="696.2" r="2.35" fill="#1e4e8e"/>
<circle cx="119.4" cy="696.1" r="2.35" fill="#1e4e8e"/>
<circle cx="120.4" cy="696.6" r="2.35" fill="#1e4e8e"/>
<circle cx="107.9" cy="697.2" r="2.35" fill="#1e4e8e"/>
<rect x="133.2" y="696.3" width="15.6" height="3.3" fill="#ec9a8d"/>
<circle cx="136.0" cy="696.6" r="2.35" fill="#c8102e"/>
<circle cx="138.5" cy="695.6" r="2.35" fill="#c8102e"/>
<circle cx="141.0" cy="696.3" r="2.35" fill="#c8102e"/>
<circle cx="143.5" cy="695.4" r="2.35" fill="#c8102e"/>
<circle cx="145.5" cy="694.6" r="2.35" fill="#c8102e"/>
<circle cx="146.6" cy="696.5" r="2.35" fill="#c8102e"/>
<circle cx="135.4" cy="697.3" r="2.35" fill="#c8102e"/>
<line x1="63.599999999999994" y1="699.6" x2="158.8" y2="699.6" stroke="#1a1a1a" stroke-width="2.0"/>
<line x1="87.0" y1="699.6" x2="87.0" y2="703.8000000000001" stroke="#1a1a1a" stroke-width="1.5"/>
<line x1="113.9" y1="699.6" x2="113.9" y2="703.8000000000001" stroke="#1a1a1a" stroke-width="1.5"/>
<line x1="141.0" y1="699.6" x2="141.0" y2="703.8000000000001" stroke="#1a1a1a" stroke-width="1.5"/>
<text x="87.0" y="720.7" font-size="12.8" text-anchor="middle" textLength="22.2" lengthAdjust="spacingAndGlyphs" fill="#222" stroke="#222" stroke-width="0.15">PBS</text>
<text x="113.9" y="720.7" font-size="12.8" text-anchor="middle" textLength="14.8" lengthAdjust="spacingAndGlyphs" fill="#222" stroke="#222" stroke-width="0.15">B6</text>
<text x="141.0" y="720.7" font-size="12.8" text-anchor="middle" textLength="24.4" lengthAdjust="spacingAndGlyphs" fill="#222" stroke="#222" stroke-width="0.15">GFP</text>
<path d="M87.0,630.1 V621.6 H141.6 V630.1" fill="none" stroke="#1a1a1a" stroke-width="1.5"/>
<text x="114.3" y="616.7" font-size="11.8" text-anchor="middle" textLength="12.4" lengthAdjust="spacingAndGlyphs" fill="#222" stroke="#222" stroke-width="0.15">ns</text>
<path d="M87.0,659.3 V650.8 H111.6 V659.3" fill="none" stroke="#1a1a1a" stroke-width="1.5"/>
<text x="99.3" y="645.9" font-size="11.8" text-anchor="middle" textLength="12.4" lengthAdjust="spacingAndGlyphs" fill="#222" stroke="#222" stroke-width="0.15">ns</text>
<path d="M116.6,659.3 V650.8 H141.6 V659.3" fill="none" stroke="#1a1a1a" stroke-width="1.5"/>
<text x="129.1" y="645.9" font-size="11.8" text-anchor="middle" textLength="12.4" lengthAdjust="spacingAndGlyphs" fill="#222" stroke="#222" stroke-width="0.15">ns</text>
<text x="181.2" y="531.5" font-size="18" text-anchor="start" textLength="13.4" lengthAdjust="spacingAndGlyphs" font-weight="bold" fill="#111">D</text>
<text x="258.6" y="546.9" font-size="12.6" text-anchor="start" textLength="82.3" lengthAdjust="spacingAndGlyphs" fill="#222">anti-GFP IgM</text>
<line x1="249.3" y1="560.3" x2="249.3" y2="700.5" stroke="#1a1a1a" stroke-width="2.0"/>
<line x1="244.10000000000002" y1="699.6" x2="339.3" y2="699.6" stroke="#1a1a1a" stroke-width="2.0"/>
<line x1="244.3" y1="699.6" x2="249.3" y2="699.6" stroke="#1a1a1a" stroke-width="1.5"/>
<text x="238.70000000000002" y="704.0" font-size="12.8" text-anchor="end" textLength="17.6" lengthAdjust="spacingAndGlyphs" fill="#222" stroke="#222" stroke-width="0.15">0.0</text>
<line x1="244.3" y1="665.8000000000001" x2="249.3" y2="665.8000000000001" stroke="#1a1a1a" stroke-width="1.5"/>
<text x="238.70000000000002" y="670.2" font-size="12.8" text-anchor="end" textLength="17.6" lengthAdjust="spacingAndGlyphs" fill="#222" stroke="#222" stroke-width="0.15">0.5</text>
<line x1="244.3" y1="632.0" x2="249.3" y2="632.0" stroke="#1a1a1a" stroke-width="1.5"/>
<text x="238.70000000000002" y="636.4" font-size="12.8" text-anchor="end" textLength="17.6" lengthAdjust="spacingAndGlyphs" fill="#222" stroke="#222" stroke-width="0.15">1.0</text>
<line x1="244.3" y1="598.2" x2="249.3" y2="598.2" stroke="#1a1a1a" stroke-width="1.5"/>
<text x="238.70000000000002" y="602.6" font-size="12.8" text-anchor="end" textLength="17.6" lengthAdjust="spacingAndGlyphs" fill="#222" stroke="#222" stroke-width="0.15">1.5</text>
<line x1="244.3" y1="564.4000000000001" x2="249.3" y2="564.4000000000001" stroke="#1a1a1a" stroke-width="1.5"/>
<text x="238.70000000000002" y="568.8" font-size="12.8" text-anchor="end" textLength="17.6" lengthAdjust="spacingAndGlyphs" fill="#222" stroke="#222" stroke-width="0.15">2.0</text>
<text transform="translate(208.0,629.6) rotate(-90)" x="0" y="0" font-size="14.2" text-anchor="middle" textLength="80.5" lengthAdjust="spacingAndGlyphs" fill="#222">Optical density</text>
<rect x="259.3" y="681.0" width="15.6" height="18.6" fill="#9d9d9d"/>
<line x1="267.1" y1="672.6" x2="267.1" y2="689.5" stroke="#161616" stroke-width="1.3"/>
<line x1="262.8" y1="672.6" x2="271.40000000000003" y2="672.6" stroke="#161616" stroke-width="1.3"/>
<line x1="262.8" y1="689.5" x2="271.40000000000003" y2="689.5" stroke="#161616" stroke-width="1.3"/>
<circle cx="265.3" cy="667.8" r="2.35" fill="#161616"/>
<circle cx="270.0" cy="666.6" r="2.35" fill="#161616"/>
<circle cx="260.5" cy="678.2" r="2.35" fill="#161616"/>
<circle cx="265.7" cy="680.8" r="2.35" fill="#161616"/>
<circle cx="270.0" cy="680.8" r="2.35" fill="#161616"/>
<circle cx="260.5" cy="687.7" r="2.35" fill="#161616"/>
<circle cx="265.3" cy="686.0" r="2.35" fill="#161616"/>
<circle cx="270.0" cy="687.7" r="2.35" fill="#161616"/>
<circle cx="274.0" cy="686.8" r="2.35" fill="#161616"/>
<circle cx="261.1" cy="683.0" r="2.35" fill="#161616"/>
<rect x="286.3" y="683.0" width="15.6" height="16.6" fill="#8fa1cb"/>
<line x1="294.1" y1="679.0" x2="294.1" y2="687.0" stroke="#1a3d73" stroke-width="1.3"/>
<line x1="289.8" y1="679.0" x2="298.40000000000003" y2="679.0" stroke="#1a3d73" stroke-width="1.3"/>
<line x1="289.8" y1="687.0" x2="298.40000000000003" y2="687.0" stroke="#1a3d73" stroke-width="1.3"/>
<circle cx="288.0" cy="681.6" r="2.35" fill="#1e4e8e"/>
<circle cx="291.4" cy="680.8" r="2.35" fill="#1e4e8e"/>
<circle cx="297.5" cy="678.2" r="2.35" fill="#1e4e8e"/>
<circle cx="300.1" cy="677.3" r="2.35" fill="#1e4e8e"/>
<circle cx="294.9" cy="684.2" r="2.35" fill="#1e4e8e"/>
<circle cx="300.1" cy="685.1" r="2.35" fill="#1e4e8e"/>
<circle cx="290.6" cy="690.3" r="2.35" fill="#1e4e8e"/>
<circle cx="288.6" cy="684.5" r="2.35" fill="#1e4e8e"/>
<circle cx="296.6" cy="688.0" r="2.35" fill="#1e4e8e"/>
<circle cx="298.1" cy="682.0" r="2.35" fill="#1e4e8e"/>
<rect x="313.2" y="683.4" width="15.6" height="16.2" fill="#ec9a8d"/>
<line x1="321.0" y1="679.5" x2="321.0" y2="687.5" stroke="#9e0c22" stroke-width="1.3"/>
<line x1="316.7" y1="679.5" x2="325.3" y2="679.5" stroke="#9e0c22" stroke-width="1.3"/>
<line x1="316.7" y1="687.5" x2="325.3" y2="687.5" stroke="#9e0c22" stroke-width="1.3"/>
<circle cx="317.3" cy="678.7" r="2.35" fill="#c8102e"/>
<circle cx="322.5" cy="677.3" r="2.35" fill="#c8102e"/>
<circle cx="320.8" cy="680.8" r="2.35" fill="#c8102e"/>
<circle cx="315.6" cy="685.1" r="2.35" fill="#c8102e"/>
<circle cx="320.5" cy="685.3" r="2.35" fill="#c8102e"/>
<circle cx="326.0" cy="684.2" r="2.35" fill="#c8102e"/>
<circle cx="327.5" cy="686.8" r="2.35" fill="#c8102e"/>
<circle cx="318.5" cy="686.0" r="2.35" fill="#c8102e"/>
<circle cx="324.5" cy="687.5" r="2.35" fill="#c8102e"/>
<circle cx="323.0" cy="682.5" r="2.35" fill="#c8102e"/>
<line x1="244.10000000000002" y1="699.6" x2="339.3" y2="699.6" stroke="#1a1a1a" stroke-width="2.0"/>
<line x1="267.1" y1="699.6" x2="267.1" y2="703.8000000000001" stroke="#1a1a1a" stroke-width="1.5"/>
<line x1="294.1" y1="699.6" x2="294.1" y2="703.8000000000001" stroke="#1a1a1a" stroke-width="1.5"/>
<line x1="321.0" y1="699.6" x2="321.0" y2="703.8000000000001" stroke="#1a1a1a" stroke-width="1.5"/>
<text x="267.1" y="720.7" font-size="12.8" text-anchor="middle" textLength="22.2" lengthAdjust="spacingAndGlyphs" fill="#222" stroke="#222" stroke-width="0.15">PBS</text>
<text x="294.1" y="720.7" font-size="12.8" text-anchor="middle" textLength="14.8" lengthAdjust="spacingAndGlyphs" fill="#222" stroke="#222" stroke-width="0.15">B6</text>
<text x="321.0" y="720.7" font-size="12.8" text-anchor="middle" textLength="24.4" lengthAdjust="spacingAndGlyphs" fill="#222" stroke="#222" stroke-width="0.15">GFP</text>
<path d="M267.1,629.9 V621.4 H321.6 V629.9" fill="none" stroke="#1a1a1a" stroke-width="1.5"/>
<text x="294.4" y="616.5" font-size="11.8" text-anchor="middle" textLength="12.4" lengthAdjust="spacingAndGlyphs" fill="#222" stroke="#222" stroke-width="0.15">ns</text>
<path d="M267.1,659.3 V650.8 H291.8 V659.3" fill="none" stroke="#1a1a1a" stroke-width="1.5"/>
<text x="279.5" y="645.9" font-size="11.8" text-anchor="middle" textLength="12.4" lengthAdjust="spacingAndGlyphs" fill="#222" stroke="#222" stroke-width="0.15">ns</text>
<path d="M296.8,659.3 V650.8 H321.6 V659.3" fill="none" stroke="#1a1a1a" stroke-width="1.5"/>
<text x="309.2" y="645.9" font-size="11.8" text-anchor="middle" textLength="12.4" lengthAdjust="spacingAndGlyphs" fill="#222" stroke="#222" stroke-width="0.15">ns</text>
<text x="363.2" y="531.5" font-size="18" text-anchor="start" textLength="12.0" lengthAdjust="spacingAndGlyphs" font-weight="bold" fill="#111">E</text>
<text x="438.6" y="546.9" font-size="12.6" text-anchor="start" textLength="80.6" lengthAdjust="spacingAndGlyphs" fill="#222">anti-GFP IgG</text>
<line x1="428.6" y1="560.3" x2="428.6" y2="700.5" stroke="#1a1a1a" stroke-width="2.0"/>
<line x1="423.40000000000003" y1="699.6" x2="518.6" y2="699.6" stroke="#1a1a1a" stroke-width="2.0"/>
<line x1="423.6" y1="699.6" x2="428.6" y2="699.6" stroke="#1a1a1a" stroke-width="1.5"/>
<text x="418.0" y="704.0" font-size="12.8" text-anchor="end" textLength="17.6" lengthAdjust="spacingAndGlyphs" fill="#222" stroke="#222" stroke-width="0.15">0.0</text>
<line x1="423.6" y1="665.8000000000001" x2="428.6" y2="665.8000000000001" stroke="#1a1a1a" stroke-width="1.5"/>
<text x="418.0" y="670.2" font-size="12.8" text-anchor="end" textLength="17.6" lengthAdjust="spacingAndGlyphs" fill="#222" stroke="#222" stroke-width="0.15">0.5</text>
<line x1="423.6" y1="632.0" x2="428.6" y2="632.0" stroke="#1a1a1a" stroke-width="1.5"/>
<text x="418.0" y="636.4" font-size="12.8" text-anchor="end" textLength="17.6" lengthAdjust="spacingAndGlyphs" fill="#222" stroke="#222" stroke-width="0.15">1.0</text>
<line x1="423.6" y1="598.2" x2="428.6" y2="598.2" stroke="#1a1a1a" stroke-width="1.5"/>
<text x="418.0" y="602.6" font-size="12.8" text-anchor="end" textLength="17.6" lengthAdjust="spacingAndGlyphs" fill="#222" stroke="#222" stroke-width="0.15">1.5</text>
<line x1="423.6" y1="564.4000000000001" x2="428.6" y2="564.4000000000001" stroke="#1a1a1a" stroke-width="1.5"/>
<text x="418.0" y="568.8" font-size="12.8" text-anchor="end" textLength="17.6" lengthAdjust="spacingAndGlyphs" fill="#222" stroke="#222" stroke-width="0.15">2.0</text>
<text transform="translate(386.9,629.6) rotate(-90)" x="0" y="0" font-size="14.2" text-anchor="middle" textLength="80.5" lengthAdjust="spacingAndGlyphs" fill="#222">Optical density</text>
<rect x="438.4" y="692.4" width="15.6" height="7.2" fill="#9d9d9d"/>
<line x1="446.2" y1="687.9" x2="446.2" y2="695.0" stroke="#161616" stroke-width="1.3"/>
<line x1="441.9" y1="687.9" x2="450.5" y2="687.9" stroke="#161616" stroke-width="1.3"/>
<line x1="441.9" y1="695.0" x2="450.5" y2="695.0" stroke="#161616" stroke-width="1.3"/>
<circle cx="439.3" cy="687.9" r="2.35" fill="#161616"/>
<circle cx="442.2" cy="686.7" r="2.35" fill="#161616"/>
<circle cx="445.1" cy="691.3" r="2.35" fill="#161616"/>
<circle cx="439.3" cy="694.2" r="2.35" fill="#161616"/>
<circle cx="445.1" cy="694.2" r="2.35" fill="#161616"/>
<circle cx="449.7" cy="694.2" r="2.35" fill="#161616"/>
<circle cx="448.0" cy="691.3" r="2.35" fill="#161616"/>
<circle cx="453.5" cy="687.9" r="2.35" fill="#161616"/>
<rect x="465.3" y="690.2" width="15.6" height="9.4" fill="#8fa1cb"/>
<circle cx="466.6" cy="691.3" r="2.35" fill="#1e4e8e"/>
<circle cx="469.6" cy="690.8" r="2.35" fill="#1e4e8e"/>
<circle cx="472.6" cy="691.4" r="2.35" fill="#1e4e8e"/>
<circle cx="475.6" cy="690.6" r="2.35" fill="#1e4e8e"/>
<circle cx="478.6" cy="691.2" r="2.35" fill="#1e4e8e"/>
<circle cx="480.1" cy="690.6" r="2.35" fill="#1e4e8e"/>
<circle cx="468.1" cy="692.5" r="2.35" fill="#1e4e8e"/>
<circle cx="474.1" cy="692.6" r="2.35" fill="#1e4e8e"/>
<rect x="492.4" y="660.3" width="15.6" height="39.3" fill="#ec9a8d"/>
<line x1="500.2" y1="638.3" x2="500.2" y2="679.2" stroke="#a0142a" stroke-width="1.3"/>
<line x1="495.9" y1="638.3" x2="504.5" y2="638.3" stroke="#a0142a" stroke-width="1.3"/>
<line x1="495.9" y1="679.2" x2="504.5" y2="679.2" stroke="#a0142a" stroke-width="1.3"/>
<circle cx="496.2" cy="630.8" r="2.35" fill="#c8102e"/>
<circle cx="504.6" cy="629.4" r="2.35" fill="#c8102e"/>
<circle cx="504.6" cy="644.4" r="2.35" fill="#c8102e"/>
<circle cx="496.2" cy="647.3" r="2.35" fill="#c8102e"/>
<circle cx="504.6" cy="661.7" r="2.35" fill="#c8102e"/>
<circle cx="496.2" cy="663.4" r="2.35" fill="#c8102e"/>
<circle cx="504.6" cy="666.4" r="2.35" fill="#c8102e"/>
<circle cx="496.2" cy="678.7" r="2.35" fill="#c8102e"/>
<circle cx="504.6" cy="680.1" r="2.35" fill="#c8102e"/>
<circle cx="500.2" cy="687.8" r="2.35" fill="#c8102e"/>
<line x1="423.40000000000003" y1="699.6" x2="518.6" y2="699.6" stroke="#1a1a1a" stroke-width="2.0"/>
<line x1="446.2" y1="699.6" x2="446.2" y2="703.8000000000001" stroke="#1a1a1a" stroke-width="1.5"/>
<line x1="473.1" y1="699.6" x2="473.1" y2="703.8000000000001" stroke="#1a1a1a" stroke-width="1.5"/>
<line x1="500.2" y1="699.6" x2="500.2" y2="703.8000000000001" stroke="#1a1a1a" stroke-width="1.5"/>
<text x="446.2" y="720.7" font-size="12.8" text-anchor="middle" textLength="22.2" lengthAdjust="spacingAndGlyphs" fill="#222" stroke="#222" stroke-width="0.15">PBS</text>
<text x="473.1" y="720.7" font-size="12.8" text-anchor="middle" textLength="14.8" lengthAdjust="spacingAndGlyphs" fill="#222" stroke="#222" stroke-width="0.15">B6</text>
<text x="500.2" y="720.7" font-size="12.8" text-anchor="middle" textLength="24.4" lengthAdjust="spacingAndGlyphs" fill="#222" stroke="#222" stroke-width="0.15">GFP</text>
<path d="M446.4,594.3 V585.8 H500.8 V594.3" fill="none" stroke="#1a1a1a" stroke-width="1.5"/>
<polygon points="464.83,575.95 465.53,577.63 467.35,577.78 465.97,578.97 466.38,580.74 464.83,579.80 463.27,580.74 463.68,578.97 462.30,577.78 464.12,577.63" fill="#222"/>
<polygon points="470.68,575.95 471.38,577.63 473.20,577.78 471.82,578.97 472.23,580.74 470.68,579.80 469.12,580.74 469.53,578.97 468.15,577.78 469.97,577.63" fill="#222"/>
<polygon points="476.53,575.95 477.23,577.63 479.05,577.78 477.67,578.97 478.08,580.74 476.53,579.80 474.97,580.74 475.38,578.97 474.00,577.78 475.82,577.63" fill="#222"/>
<polygon points="482.38,575.95 483.08,577.63 484.90,577.78 483.52,578.97 483.93,580.74 482.38,579.80 480.82,580.74 481.23,578.97 479.85,577.78 481.67,577.63" fill="#222"/>
<path d="M475.8,622.0 V613.5 H500.8 V622.0" fill="none" stroke="#1a1a1a" stroke-width="1.5"/>
<polygon points="479.53,603.65 480.23,605.33 482.05,605.48 480.67,606.67 481.08,608.44 479.53,607.50 477.97,608.44 478.38,606.67 477.00,605.48 478.82,605.33" fill="#222"/>
<polygon points="485.38,603.65 486.08,605.33 487.90,605.48 486.52,606.67 486.93,608.44 485.38,607.50 483.82,608.44 484.23,606.67 482.85,605.48 484.67,605.33" fill="#222"/>
<polygon points="491.23,603.65 491.93,605.33 493.75,605.48 492.37,606.67 492.78,608.44 491.23,607.50 489.67,608.44 490.08,606.67 488.70,605.48 490.52,605.33" fill="#222"/>
<polygon points="497.08,603.65 497.78,605.33 499.60,605.48 498.22,606.67 498.63,608.44 497.08,607.50 495.52,608.44 495.93,606.67 494.55,605.48 496.37,605.33" fill="#222"/>
<path d="M446.4,667.2 V658.7 H471.1 V667.2" fill="none" stroke="#1a1a1a" stroke-width="1.5"/>
<text x="458.8" y="653.8000000000001" font-size="11.8" text-anchor="middle" textLength="12.4" lengthAdjust="spacingAndGlyphs" fill="#222" stroke="#222" stroke-width="0.15">ns</text>
</svg></body></html>
